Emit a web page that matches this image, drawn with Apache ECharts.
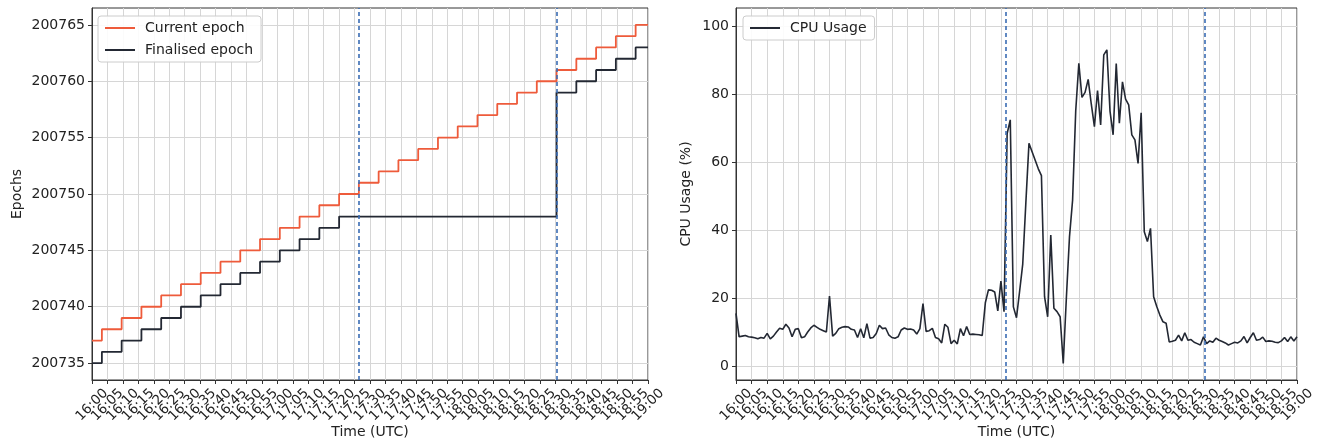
<!DOCTYPE html>
<html>
<head>
<meta charset="utf-8">
<script src="https://cdn.jsdelivr.net/npm/echarts@6/dist/echarts.min.js"></script>
<style>
  html, body { margin: 0; padding: 0; background: #fff; }
  #chart { width: 1321px; height: 441px; }
</style>
</head>
<body>
<div id="chart"></div>
<script>
// minutes after 16:00 UTC where the epoch changes (last entry = end of window)
const epochTimes = [0, 3.2, 9.6, 16.0, 22.4, 28.8, 35.2, 41.6, 48.0, 54.4, 60.8, 67.2, 73.6, 80.0,
  86.4, 92.8, 99.2, 105.6, 112.0, 118.4, 124.8, 131.2, 137.6, 144.0,
  150.4, 156.8, 163.2, 169.6, 176.0, 180]
const currentEpoch = [200737, 200738, 200739, 200740, 200741, 200742, 200743, 200744, 200745, 200746,
  200747, 200748, 200749, 200750, 200751, 200752, 200753, 200754, 200755, 200756,
  200757, 200758, 200759, 200760, 200761, 200762, 200763, 200764, 200765, 200765]
const finalisedEpoch = [200735, 200736, 200737, 200738, 200739, 200740, 200741, 200742, 200743, 200744,
  200745, 200746, 200747, 200748, 200748, 200748, 200748, 200748, 200748, 200748,
  200748, 200748, 200748, 200748, 200759, 200760, 200761, 200762, 200763, 200763]

// CPU usage (%), one sample per minute from 16:00 to 19:00
const cpuUsage = [
  15.5, 8.6, 8.8, 9.0, 8.6, 8.5, 8.3, 8.0, 8.4, 8.2,
  9.6, 8.0, 8.8, 10.0, 11.1, 10.8, 12.3, 11.2, 8.6, 10.8,
  11.0, 8.3, 8.6, 10.0, 11.2, 12.0, 11.4, 10.8, 10.4, 10.0,
  20.6, 8.8, 9.6, 11.0, 11.4, 11.6, 11.5, 10.8, 10.6, 8.4,
  11.0, 8.3, 12.5, 8.2, 8.4, 9.6, 12.0, 11.0, 11.2, 9.2,
  8.4, 8.2, 8.6, 10.6, 11.2, 10.8, 10.9, 10.6, 9.4, 11.0,
  18.4, 10.2, 10.4, 11.1, 8.4, 8.0, 6.8, 12.3, 11.4, 6.6,
  7.6, 6.5, 11.0, 8.9, 11.6, 9.3, 9.4, 9.3, 9.2, 9.0,
  18.6, 22.4, 22.3, 21.8, 16.2, 25.0, 16.0, 68.4, 72.4, 17.4,
  14.2, 22.0, 30.0, 48.0, 65.5, 63.0, 60.5, 58.0, 56.0, 20.4,
  14.5, 38.5, 17.0, 16.0, 14.5, 0.8, 20.0, 38.0, 48.8, 75.0,
  89.0, 79.0, 80.5, 84.3, 77.0, 70.4, 81.0, 70.9, 91.5, 93.0,
  75.0, 68.0, 89.0, 71.4, 83.6, 78.5, 76.8, 68.0, 66.5, 59.6,
  74.5, 39.5, 36.6, 40.5, 20.4, 17.5, 15.0, 13.0, 12.6, 7.1,
  7.3, 7.6, 9.1, 7.4, 9.8, 7.6, 7.8, 7.0, 6.6, 6.2,
  8.6, 6.6, 7.4, 7.0, 8.2, 7.6, 7.2, 6.8, 6.2, 6.6,
  7.0, 6.8, 7.4, 8.7, 6.8, 8.4, 9.8, 7.6, 7.8, 8.5,
  7.2, 7.4, 7.3, 7.0, 6.9, 7.4, 8.4, 7.2, 8.6, 7.4,
  8.6
]

// dashed markers (minutes after 16:00)
const eventTimes = [86.4, 150.4]

// x tick labels, every 5 minutes
const timeLabels = ['16:00', '16:05', '16:10', '16:15', '16:20', '16:25', '16:30', '16:35', '16:40',
  '16:45', '16:50', '16:55', '17:00', '17:05', '17:10', '17:15', '17:20', '17:25', '17:30',
  '17:35', '17:40', '17:45', '17:50', '17:55', '18:00', '18:05', '18:10', '18:15', '18:20',
  '18:25', '18:30', '18:35', '18:40', '18:45', '18:50', '18:55', '19:00']
const epochTicks = [200735, 200740, 200745, 200750, 200755, 200760, 200765]
const cpuTicks = [0, 20, 40, 60, 80, 100]

const font = 'DejaVu Sans'
const axisColor = '#333'
const gridColor = '#d6d6d6'

// visible time axis: ticks, labels and vertical grid lines
function labelAxisFor(gridIndex) {
  return {
    type: 'category',
    gridIndex: gridIndex,
    data: timeLabels,
    boundaryGap: false,
    position: 'bottom',
    name: 'Time (UTC)',
    nameLocation: 'middle',
    nameGap: 45,
    nameMoveOverlap: false,
    nameTextStyle: { fontFamily: font, fontSize: 14, color: '#222' },
    axisLine: { onZero: false, lineStyle: { color: axisColor, width: 1 } },
    axisTick: { show: true, interval: 0, length: 4, lineStyle: { color: axisColor } },
    axisLabel: {
      interval: 0,
      rotate: 45,
      align: 'center',
      verticalAlign: 'middle',
      margin: 25,
      hideOverlap: false,
      fontFamily: font,
      fontSize: 13.5,
      color: '#222'
    },
    splitLine: { show: true, interval: 0, lineStyle: { color: gridColor, width: 1 } }
  }
}

// hidden numeric axis (minutes after 16:00) that positions the data
function valueAxisFor(gridIndex) {
  return { type: 'value', gridIndex: gridIndex, min: 0, max: 180, show: false }
}

const currentData = epochTimes.map((t, i) => [t, currentEpoch[i]])
const finalisedData = epochTimes.map((t, i) => [t, finalisedEpoch[i]])
const cpuData = cpuUsage.map((v, i) => [i, v])

const markLines = {
  silent: true,
  symbol: 'none',
  label: { show: false },
  lineStyle: { color: '#3a6cb3', type: [4, 3], width: 1.6 },
  data: eventTimes.map(t => ({ xAxis: t }))
}

const legendBase = {
  orient: 'vertical',
  backgroundColor: 'rgba(255,255,255,0.9)',
  borderColor: '#cccccc',
  borderWidth: 1,
  borderRadius: 3,
  padding: [5, 8, 5, 6],
  itemWidth: 30,
  itemHeight: 2,
  itemGap: 8,
  textStyle: { fontFamily: font, fontSize: 14, color: '#222', padding: [0, 0, 0, 5] }
}

const chart = echarts.init(document.getElementById('chart'), null, { renderer: 'canvas' })

chart.setOption({
  animation: false,
  backgroundColor: '#fff',
  grid: [
    { left: 92, right: 673, top: 8, bottom: 61, outerBoundsMode: 'none',
      show: true, borderColor: axisColor, borderWidth: 1 },
    { left: 736, right: 24, top: 8, bottom: 61, outerBoundsMode: 'none',
      show: true, borderColor: axisColor, borderWidth: 1 }
  ],
  legend: [
    Object.assign({}, legendBase, { left: 98, top: 16, data: ['Current epoch', 'Finalised epoch'] }),
    Object.assign({}, legendBase, { left: 743, top: 16, data: ['CPU Usage'] })
  ],
  xAxis: [labelAxisFor(0), valueAxisFor(0), labelAxisFor(1), valueAxisFor(1)],
  yAxis: [
    {
      type: 'value',
      gridIndex: 0,
      min: 200733.5,
      max: 200766.5,
      name: 'Epochs',
      nameLocation: 'middle',
      nameGap: 68,
      nameTextStyle: { fontFamily: font, fontSize: 14, color: '#222' },
      axisLine: { show: true, lineStyle: { color: axisColor } },
      axisTick: { show: true, length: 4, customValues: epochTicks, lineStyle: { color: axisColor } },
      axisLabel: {
        customValues: epochTicks,
        formatter: v => String(v),
        fontFamily: font,
        fontSize: 14,
        color: '#222',
        margin: 7
      },
      splitLine: { show: true, lineStyle: { color: gridColor, width: 1 } }
    },
    {
      type: 'value',
      gridIndex: 1,
      min: -4.1,
      max: 105.3,
      name: 'CPU Usage (%)',
      nameLocation: 'middle',
      nameGap: 43,
      nameTextStyle: { fontFamily: font, fontSize: 14, color: '#222' },
      axisLine: { show: true, lineStyle: { color: axisColor } },
      axisTick: { show: true, length: 4, customValues: cpuTicks, lineStyle: { color: axisColor } },
      axisLabel: {
        customValues: cpuTicks,
        formatter: v => String(v),
        fontFamily: font,
        fontSize: 14,
        color: '#222',
        margin: 7
      },
      splitLine: { show: true, lineStyle: { color: gridColor, width: 1 } }
    }
  ],
  series: [
    {
      name: 'Current epoch',
      type: 'line',
      xAxisIndex: 1,
      yAxisIndex: 0,
      step: 'end',
      showSymbol: false,
      symbol: 'none',
      color: '#ee5b3b',
      lineStyle: { width: 1.8, color: '#ee5b3b' },
      data: currentData,
      z: 3
    },
    {
      name: 'Finalised epoch',
      type: 'line',
      xAxisIndex: 1,
      yAxisIndex: 0,
      step: 'end',
      showSymbol: false,
      symbol: 'none',
      color: '#232833',
      lineStyle: { width: 1.8, color: '#232833' },
      data: finalisedData,
      markLine: markLines,
      z: 2
    },
    {
      name: 'CPU Usage',
      type: 'line',
      xAxisIndex: 3,
      yAxisIndex: 1,
      showSymbol: false,
      symbol: 'none',
      color: '#232833',
      lineStyle: { width: 1.6, color: '#232833' },
      data: cpuData,
      markLine: markLines,
      z: 2
    }
  ]
})
</script>
</body>
</html>
